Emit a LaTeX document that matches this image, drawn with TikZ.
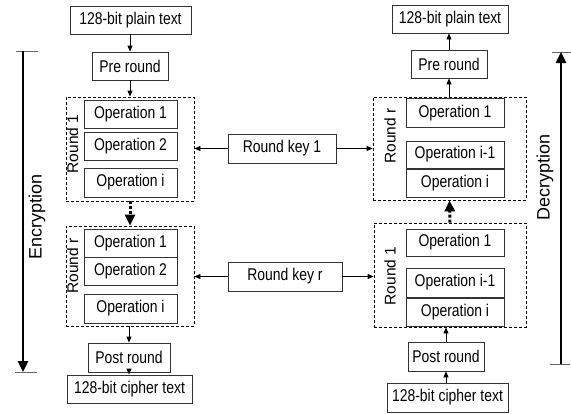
\documentclass[tikz,border=0pt]{standalone}
\usepackage{fontspec}
\setmainfont{Liberation Sans}[FakeStretch=0.82]
\newfontfamily\rotfont{Liberation Sans}
\usetikzlibrary{arrows.meta}
\begin{document}
\begin{tikzpicture}[x=1pt,y=-1pt,
 box/.style={draw=black!80, line width=0.8pt, minimum height=28pt, inner sep=0pt, font=\fontsize{17}{18}\selectfont},
 rbox/.style={draw=black, dash pattern=on 3pt off 2pt, line width=0.8pt, inner sep=0pt},
 arr/.style={-{Triangle[length=6pt,width=5pt]}, line width=0.8pt},
 thk/.style={-{Triangle[length=11pt,width=10pt]}, line width=3pt, dash pattern=on 3pt off 2pt},
 lbl/.style={rotate=90, font=\rotfont\fontsize{15.5}{15.5}\selectfont, inner sep=0pt},
 side/.style={rotate=90, font=\rotfont\fontsize{18}{18}\selectfont, inner sep=0pt},
 bigarr/.style={-{Triangle[length=11pt,width=10pt]}, line width=2.5pt},
 tick/.style={line width=1pt, draw=black!60},
]
\useasboundingbox (0,0) rectangle (571,413);

% ---------- left (encryption) ----------
\node[box, minimum width=121pt] (pt1) at (130.5,20) {128-bit plain text};
\node[box, minimum width=76pt] (pre1) at (130,66) {Pre round};
\node[rbox, minimum width=128pt, minimum height=104pt] (R1) at (130,149) {};
\node[box, minimum width=93pt] (o11) at (130.5,114) {Operation 1};
\node[box, minimum width=93pt] (o12) at (130.5,146) {Operation 2};
\node[box, minimum width=93pt, minimum height=29pt] (o1i) at (130.5,182.5) {Operation i};
\node[lbl] (lR1) at (72.5,144) {Round 1};

\node[rbox, minimum width=128pt, minimum height=100pt] (Rr) at (130,276) {};
\node[box, minimum width=93pt] (or1) at (130.5,243) {Operation 1};
\node[box, minimum width=93pt] (or2) at (130.5,271) {Operation 2};
\node[box, minimum width=93pt, minimum height=29pt] (ori) at (130.5,308.5) {Operation i};
\node[lbl] (lRr) at (72.5,266) {Round r};

\node[box, minimum width=82pt, minimum height=29pt] (post1) at (129,357.5) {Post round};
\node[box, minimum width=125pt] (ct1) at (129.5,389) {128-bit cipher text};

\draw[arr] (pt1.south -| pre1) -- (pre1.north);
\draw[arr] (pre1.south) -- (pre1.south |- R1.north);
\draw[thk] (R1.south) -- (Rr.north);
\draw[arr] (Rr.south) -- (Rr.south -| post1) -- (post1.north);
\draw[arr] (post1.south) -- (ct1.north -| post1);

% ---------- keys ----------
\node[box, minimum width=108pt, minimum height=29pt] (k1) at (282,148.5) {Round key 1};
\node[box, minimum width=114pt, minimum height=29pt] (kr) at (285,276.5) {Round key r};

% ---------- right (decryption) ----------
\node[box, minimum width=116pt] (pt2) at (450,19) {128-bit plain text};
\node[box, minimum width=76pt] (pre2) at (449,64) {Pre round};
\node[rbox, minimum width=153pt, minimum height=103pt] (R2) at (449.5,148.5) {};
\node[box, minimum width=98pt, minimum height=29pt] (o21) at (455,113) {Operation 1};
\node[box, minimum width=98pt, minimum height=27pt] (o2a) at (455,154.5) {Operation i-1};
\node[box, minimum width=98pt] (o2i) at (455,183) {Operation i};
\node[lbl] (lR2) at (390,136) {Round r};

\node[rbox, minimum width=152pt, minimum height=104pt] (R3) at (450,275) {};
\node[box, minimum width=98pt, minimum height=27pt] (o31) at (455,242.5) {Operation 1};
\node[box, minimum width=98pt, minimum height=29pt] (o3a) at (455,282.5) {Operation i-1};
\node[box, minimum width=98pt] (o3i) at (455,312) {Operation i};
\node[lbl] (lR3) at (390,276) {Round 1};

\node[box, minimum width=76pt, minimum height=29pt] (post2) at (446,356.5) {Post round};
\node[box, minimum width=121pt, minimum height=29pt] (ct2) at (447.5,397.5) {128-bit cipher text};

\draw[arr] (pre2.north) -- (pre2.north |- pt2.south);
\draw[arr] (pre2.south |- R2.north) -- (pre2.south);
\draw[thk] (R3.north) -- (R2.south);
\draw[arr] (post2.north) -- (post2.north |- R3.south);
\draw[arr] (post2.south |- ct2.north) -- (post2.south);

% ---------- key arrows ----------
\draw[arr] (k1.west) -- (k1.west -| R1.east);
\draw[arr] (k1.east) -- (k1.east -| R2.west);
\draw[arr] (kr.west) -- (kr.west -| Rr.east);
\draw[arr] (kr.east) -- (kr.east -| R3.west);

% ---------- encryption / decryption ----------
\coordinate (e1) at (23,51);
\coordinate (e2) at (23,372);
\draw[tick] (16,51) -- (38,51);
\draw[tick] (15,372) -- (37,372);
\draw[bigarr] (e1) -- (e2);
\node[side] (enc) at (37,217) {Encryption};

\coordinate (d1) at (561,364);
\coordinate (d2) at (561,52);
\draw[tick] (552,52) -- (571,52);
\draw[tick] (550,364) -- (570,364);
\draw[bigarr] (d1) -- (d2);
\node[side] (dec) at (545,177) {Decryption};
\end{tikzpicture}
\end{document}
